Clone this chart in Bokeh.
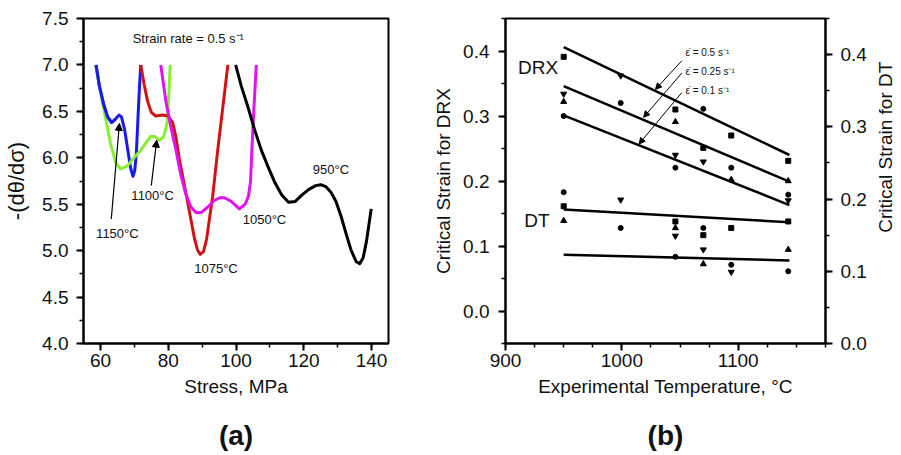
import numpy as np
from bokeh.plotting import figure
from bokeh.layouts import row
from bokeh.models import (Range1d, LinearAxis, SingleIntervalTicker, NumeralTickFormatter,
                          Label, Arrow, NormalHead)
from bokeh.embed import file_html
from bokeh.resources import INLINE

FONT = "Liberation Sans"

# ---------------- panel (a) data : stress (MPa) vs -(dtheta/dsigma) ----------------
s_1150 = [58.7, 59.7, 60.9, 62.1, 63.3, 64.5, 65.5, 66.2, 67.1, 68.0, 68.9, 69.6, 70.1, 70.6, 71.1, 71.5, 71.9]
v_1150 = [7.00, 6.77, 6.58, 6.44, 6.38, 6.42, 6.46, 6.44, 6.31, 6.10, 5.89, 5.80, 5.86, 6.05, 6.45, 6.75, 7.00]

s_1100 = [58.6, 60.0, 61.5, 63.0, 64.5, 65.9, 67.9, 69.9, 71.9, 73.4, 74.8, 76.0, 77.3, 78.6, 79.6, 80.1, 80.6]
v_1100 = [7.00, 6.72, 6.43, 6.15, 5.95, 5.88, 5.91, 6.00, 6.08, 6.16, 6.23, 6.23, 6.19, 6.22, 6.36, 6.61, 7.00]

s_1075 = [71.9, 72.9, 73.9, 75.0, 76.3, 78.3, 80.0, 81.3, 82.3, 83.2, 84.7, 86.2, 87.7, 88.6, 89.4,
          90.4, 91.3, 92.2, 93.1, 94.6, 96.1, 97.6]
v_1075 = [7.00, 6.79, 6.61, 6.49, 6.45, 6.46, 6.45, 6.38, 6.22, 6.00, 5.72, 5.43, 5.14, 5.01, 4.96,
          4.99, 5.12, 5.35, 5.58, 6.08, 6.54, 7.00]

s_1050 = [77.8, 79.3, 80.8, 82.3, 83.7, 85.2, 86.7, 88.2, 89.7, 91.7, 93.6, 95.2, 96.6, 98.6, 101.0,
          102.7, 103.7, 104.3, 104.8, 105.4, 106.0]
v_1050 = [7.00, 6.61, 6.33, 6.08, 5.82, 5.61, 5.47, 5.41, 5.41, 5.47, 5.54, 5.57, 5.57, 5.53, 5.45,
          5.50, 5.59, 5.75, 6.18, 6.61, 7.00]

s_950 = [99.9, 101.5, 103.5, 105.5, 107.5, 109.5, 111.5, 113.5, 115.5, 117.5, 119.5, 121.5, 123.5,
         125.0, 126.5, 128.0, 129.5, 131.0, 132.5, 134.0, 135.5, 136.5, 137.5, 138.5, 139.5, 139.9]
v_950 = [7.00, 6.78, 6.55, 6.30, 6.08, 5.90, 5.73, 5.60, 5.52, 5.53, 5.60, 5.66, 5.70,
         5.71, 5.69, 5.63, 5.53, 5.37, 5.18, 5.00, 4.88, 4.86, 4.92, 5.10, 5.35, 5.45]

curve_colors = ["#1a1aee", "#88ee33", "#d01414", "#e014f0", "#000000"]

# ---------------- panel (b) data : critical strain vs temperature ----------------
fit_T = [950, 1144]
drx_05 = [0.406, 0.240]
drx_025 = [0.346, 0.199]
drx_01 = [0.301, 0.163]
dt_upper = [0.1855, 0.168]
dt_lower = [0.123, 0.115]

# DRX points (left axis)
drx_sq_T = [950, 1046, 1094, 1070, 1143]
drx_sq_v = [0.391, 0.310, 0.270, 0.251, 0.231]
drx_ci_T = [999, 950, 1070, 1046, 1094, 1143]
drx_ci_v = [0.320, 0.300, 0.311, 0.2205, 0.2205, 0.179]
drx_up_T = [950, 1046, 1094, 1143]
drx_up_v = [0.322, 0.291, 0.202, 0.200]
drx_dn_T = [999, 950, 1046, 1070, 1143]
drx_dn_v = [0.362, 0.334, 0.240, 0.2297, 0.170]

# DT points (right axis)
dt_sq_T = [950, 1046, 1070, 1094, 1143]
dt_sq_v = [0.190, 0.169, 0.150, 0.160, 0.169]
dt_ci_T = [950, 999, 1046, 1070, 1094, 1143]
dt_ci_v = [0.2095, 0.160, 0.120, 0.160, 0.109, 0.100]
dt_up_T = [950, 1046, 1070, 1143]
dt_up_v = [0.170, 0.160, 0.110, 0.130]
dt_dn_T = [999, 1046, 1070, 1094]
dt_dn_v = [0.199, 0.149, 0.130, 0.099]


def style_axis(ax, size="19px"):
    ax.axis_line_width = 2
    ax.axis_line_color = "black"
    ax.major_tick_line_width = 2
    ax.minor_tick_line_width = 1.5
    ax.major_tick_out = 7
    ax.major_tick_in = 0
    ax.minor_tick_out = 4
    ax.minor_tick_in = 0
    ax.major_label_text_font = FONT
    ax.major_label_text_font_size = size
    ax.major_label_text_color = "#111111"
    ax.axis_label_text_font = FONT
    ax.axis_label_text_font_size = "19px"
    ax.axis_label_text_font_style = "normal"
    ax.axis_label_text_color = "#111111"


def caption_axis(text):
    ax = LinearAxis(axis_label=text)
    ax.axis_line_color = None
    ax.major_tick_line_color = None
    ax.minor_tick_line_color = None
    ax.major_label_text_font_size = "0px"
    ax.major_label_text_color = None
    ax.major_label_standoff = 0
    ax.axis_label_text_font = FONT
    ax.axis_label_text_font_size = "28px"
    ax.axis_label_text_font_style = "bold"
    ax.axis_label_text_color = "#111111"
    ax.axis_label_standoff = 14
    return ax


def lab(p, x, y, t, size="13px", align="center", bold=False, angle=0, yr="default"):
    p.add_layout(Label(x=x, y=y, text=t, text_font=FONT, text_font_size=size,
                       text_align=align, text_baseline="middle", angle=angle,
                       text_font_style="bold" if bold else "normal",
                       text_color="#111111", y_range_name=yr))


# ---------------- figure (a) ----------------
p1 = figure(width=430, height=455, x_range=Range1d(55, 145), y_range=Range1d(4.0, 7.5),
            output_backend="svg", toolbar_location=None,
            min_border_left=83, min_border_right=42, min_border_top=18, min_border_bottom=112)
p1.grid.visible = False
p1.outline_line_color = "black"
p1.outline_line_width = 2
p1.xaxis.ticker = SingleIntervalTicker(interval=20, num_minor_ticks=2)
p1.yaxis.ticker = SingleIntervalTicker(interval=0.5, num_minor_ticks=2)
p1.yaxis.formatter = NumeralTickFormatter(format="0.0")
style_axis(p1.xaxis[0])
style_axis(p1.yaxis[0])
p1.xaxis.axis_label = "Stress, MPa"
p1.xaxis.major_label_standoff = 3
p1.xaxis.axis_label_standoff = 6
p1.yaxis.major_label_standoff = 8
p1.yaxis.axis_label = "-(d\u03b8/d\u03c3)"
p1.yaxis.axis_label_text_font_size = "22px"
p1.yaxis.axis_label_standoff = 10
p1.add_layout(caption_axis("(a)"), "below")

for s, v, c in zip([s_1150, s_1100, s_1075, s_1050, s_950],
                   [v_1150, v_1100, v_1075, v_1050, v_950], curve_colors):
    p1.line(s, v, line_color=c, line_width=3, line_join="round")

# redraw blue over green where they overlap
p1.line(s_1150[:6], v_1150[:6], line_color=curve_colors[0], line_width=3)

lab(p1, 69.5, 7.29, "Strain rate = 0.5 s\u207b\u00b9", align="left")
lab(p1, 65.0, 5.18, "1150\u00b0C")
lab(p1, 75.4, 5.59, "1100\u00b0C")
lab(p1, 94.1, 4.81, "1075\u00b0C")
lab(p1, 108.4, 5.34, "1050\u00b0C")
lab(p1, 128.0, 5.87, "950\u00b0C")

for xs, ys, xe, ye in [(63.2, 5.34, 65.6, 6.37), (75.0, 5.70, 76.6, 6.19)]:
    p1.add_layout(Arrow(end=NormalHead(size=7, fill_color="black", line_color="black"),
                        x_start=xs, y_start=ys, x_end=xe, y_end=ye,
                        line_width=1.2, line_color="black"))

# ---------------- figure (b) ----------------
p2 = figure(width=445, height=455, x_range=Range1d(900, 1175), y_range=Range1d(-0.05, 0.45),
            output_backend="svg", toolbar_location=None,
            min_border_left=71, min_border_right=50, min_border_top=18, min_border_bottom=112)
p2.extra_y_ranges = {"dt": Range1d(0.0, 0.45)}
p2.grid.visible = False
p2.outline_line_color = "black"
p2.outline_line_width = 2
p2.xaxis.ticker = SingleIntervalTicker(interval=100, num_minor_ticks=4)
p2.yaxis.ticker = SingleIntervalTicker(interval=0.1, num_minor_ticks=2)
p2.yaxis.formatter = NumeralTickFormatter(format="0.0")
style_axis(p2.xaxis[0])
style_axis(p2.yaxis[0])
p2.xaxis.axis_label = "Experimental Temperature, \u00b0C"
p2.yaxis.axis_label = "Critical Strain for DRX"
p2.xaxis.major_label_standoff = 3
p2.xaxis.axis_label_standoff = 6
p2.yaxis.major_label_standoff = 9
p2.yaxis.axis_label_standoff = 6
p2.add_layout(caption_axis("(b)"), "below")

rax = LinearAxis(y_range_name="dt", ticker=SingleIntervalTicker(interval=0.1, num_minor_ticks=2),
                 formatter=NumeralTickFormatter(format="0.0"))
style_axis(rax)
rax.major_label_standoff = 8
p2.add_layout(rax, "right")

for yv in [drx_05, drx_025, drx_01]:
    p2.line(fit_T, yv, line_color="black", line_width=2.5)
for yv in [dt_upper, dt_lower]:
    p2.line(fit_T, yv, line_color="black", line_width=2.5, y_range_name="dt")

p2.scatter(drx_sq_T, drx_sq_v, marker="square", size=5, color="black")
p2.scatter(drx_ci_T, drx_ci_v, marker="circle", size=5, color="black")
p2.scatter(drx_up_T, drx_up_v, marker="triangle", size=6, color="black")
p2.scatter(drx_dn_T, drx_dn_v, marker="inverted_triangle", size=6, color="black")
p2.scatter(dt_sq_T, dt_sq_v, marker="square", size=5, color="black", y_range_name="dt")
p2.scatter(dt_ci_T, dt_ci_v, marker="circle", size=5, color="black", y_range_name="dt")
p2.scatter(dt_up_T, dt_up_v, marker="triangle", size=6, color="black", y_range_name="dt")
p2.scatter(dt_dn_T, dt_dn_v, marker="inverted_triangle", size=6, color="black", y_range_name="dt")

lab(p2, 928, 0.374, "DRX", size="19px")
lab(p2, 927, 0.140, "DT", size="19px")
lab(p2, 1054.6, 0.398, "\u03b5\u0307 = 0.5 s\u207b\u00b9", size="10px", align="left")
lab(p2, 1054.6, 0.369, "\u03b5\u0307 = 0.25 s\u207b\u00b9", size="10px", align="left")
lab(p2, 1054.6, 0.340, "\u03b5\u0307 = 0.1 s\u207b\u00b9", size="10px", align="left")

for xs, ys, xe, ye in [(1051.5, 0.385, 1028.9, 0.341),
                       (1051.5, 0.366, 1018.7, 0.298),
                       (1051.5, 0.336, 1014.8, 0.257)]:
    p2.add_layout(Arrow(end=NormalHead(size=6, fill_color="black", line_color="black"),
                        x_start=xs, y_start=ys, x_end=xe, y_end=ye,
                        line_width=1, line_color="black"))

# ---------------- strip holding the right-axis title (reads bottom to top) ----------------
p3 = figure(width=26, height=455, x_range=Range1d(0, 1), y_range=Range1d(0, 1),
            output_backend="svg", toolbar_location=None,
            min_border_left=0, min_border_right=0, min_border_top=0, min_border_bottom=0)
p3.axis.visible = False
p3.grid.visible = False
p3.outline_line_color = None
p3.add_layout(Label(x=0.38, y=0.604, text="Critical Strain for DT", angle=np.pi / 2,
                    text_align="center", text_baseline="middle", text_font=FONT,
                    text_font_size="19px", text_color="#111111"))

layout = row(p1, p2, p3)
open("out.html", "w").write(file_html(layout, INLINE))
